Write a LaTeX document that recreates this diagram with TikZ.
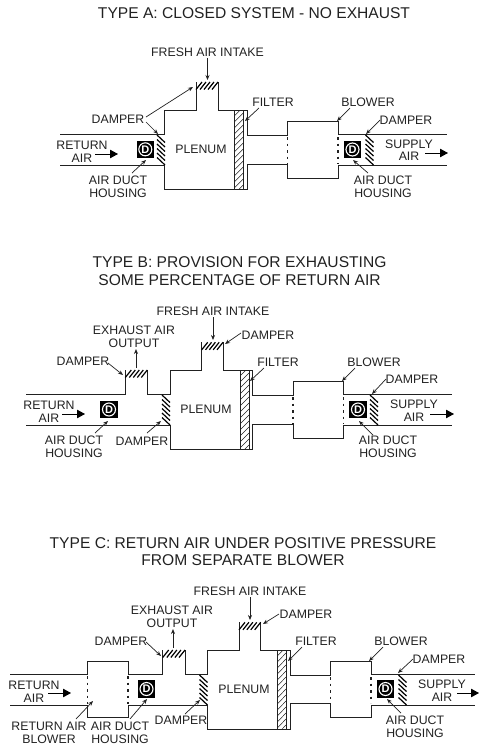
\documentclass[tikz,border=0pt]{standalone}
\usepackage{fontspec}
\setmainfont{Liberation Sans}
\usetikzlibrary{arrows.meta}
\definecolor{ink}{gray}{0.13}
\newcounter{tgt}
\tikzset{
  wall/.style={line width=1pt,draw=ink,line join=miter},
  dots/.style={line width=1.4pt,draw=ink,dash pattern=on 2.5pt off 4pt},
  hatchline/.style={line width=1.2pt,draw=black},
  thinhatch/.style={line width=0.5pt,draw=ink},
  lbl/.style={inner sep=0pt,text=ink,align=center,font=\fontsize{12.3}{12.6}\selectfont},
  ttl/.style={inner sep=0pt,text=ink,align=center,font=\fontsize{15.6}{17.7}\selectfont},
  ptr/.style={line width=0.7pt,draw=ink,-{Stealth[length=5pt,width=4pt]}},
  flow/.style={line width=0.8pt,draw=black,-{Triangle[length=8pt,width=8.5pt]}},
  dbox/.style={fill=black,inner sep=0pt,minimum size=17.5pt},
  dmark/.style={circle,draw=white,line width=1.1pt,inner sep=0pt,minimum size=13pt,text=white,font=\fontsize{11}{11}\selectfont\bfseries},
}
% a pointer: from label #1 at offset (#2,#3) to a named target at (#4,#5)
\newcommand{\ptrto}[5]{\stepcounter{tgt}\coordinate (t\thetgt) at (#4,#5);
  \draw[ptr] ([shift={(#2,#3)}]#1.center) -- (t\thetgt);}
% flow arrow after a label
\newcommand{\flowto}[5]{\stepcounter{tgt}\coordinate (t\thetgt) at (#4,#5);
  \draw[flow] ([shift={(#2,#3)}]#1.center) -- (t\thetgt);}
% side damper: x0 x1 ytop ybottom
\newcommand{\sidedamper}[4]{\foreach \k in {0,...,5}{
  \draw[hatchline] (#1,{#3+\k*(#4-#3-7.5)/5}) -- (#2,{#3+7.5+\k*(#4-#3-7.5)/5});}}
% top damper: x0 x1 ytop
\newcommand{\topdamper}[3]{\foreach \k in {0,...,4}{
  \draw[hatchline] ({#1+\k*(#2-#1-6)/4},#3+7.5) -- ({#1+6+\k*(#2-#1-6)/4},#3);}}
% filter: x0 x1 ytop ybottom
\newcommand{\filterbox}[4]{\begin{scope}
  \clip (#1,#3) rectangle (#2,#4);
  \foreach \k in {0,...,16}{\draw[thinhatch] (#1,{#3+\k*6}) -- (#2,{#3+\k*6-9});}
  \end{scope}
  \draw[wall] (#1,#3) rectangle (#2,#4);}
% D marker
\newcommand{\dmarker}[3]{\node[dbox] (#1) at (#2,#3) {};\node[dmark] (#1m) at (#1.center) {D};}
\begin{document}
\begin{tikzpicture}[x=1pt,y=-1pt]
\useasboundingbox (0,0) rectangle (483,748);
% ---------- TYPE A
\node[ttl] (aT) at (254,13.3) {TYPE A: CLOSED SYSTEM - NO EXHAUST};
\draw[wall] (60,134.7)--(164.7,134.7)--(164.7,110)--(196,110)--(196,82);
\draw[wall] (218,82)--(218,110)--(247,110)--(247,135.7)--(287.7,135.7)--(287.7,121.3)--(338,121.3)--(338,134.5)--(446.7,134.5);
\draw[wall] (60,165)--(164.7,165)--(164.7,189)--(247,189)--(247,164.3)--(287.7,164.3)--(287.7,178.3)--(338,178.3)--(338,165.5)--(446.7,165.5);
\draw[dots] (287.7,137)--(287.7,164); \draw[dots] (338,137)--(338,164);
\filterbox{234.3}{243.3}{110}{189}
\sidedamper{157}{165}{135}{165}
\sidedamper{365.5}{373.5}{135}{165}
\topdamper{196}{218}{82}
\dmarker{aD1}{145.3}{149.3}
\dmarker{aD2}{352.5}{149.5}
\node[lbl] (aFresh) at (207.5,52) {FRESH AIR INTAKE};
\ptrto{aFresh}{0}{6}{207.5}{80}
\node[lbl] (aDampL) at (118,119) {DAMPER};
\ptrto{aDampL}{28}{-2}{193}{87}
\ptrto{aDampL}{28}{3}{158}{134}
\node[lbl] (aRet) at (82,151.5) {RETURN\\AIR};
\flowto{aRet}{13}{2.5}{118}{154}
\node[lbl] (aHou1) at (118,187) {AIR DUCT\\HOUSING};
\ptrto{aHou1}{14}{-14}{146}{160}
\node[lbl] (aPl) at (201,149) {PLENUM};
\node[lbl] (aFil) at (273,102) {FILTER};
\ptrto{aFil}{-14}{6}{245}{121}
\node[lbl] (aBlo) at (368,102) {BLOWER};
\ptrto{aBlo}{-18}{6}{337}{121}
\node[lbl] (aDampR) at (406,120) {DAMPER};
\ptrto{aDampR}{-26}{0}{366}{134}
\node[lbl] (aSup) at (409,150) {SUPPLY\\AIR};
\flowto{aSup}{16}{3}{448}{153}
\node[lbl] (aHou2) at (383,187) {AIR DUCT\\HOUSING};
\ptrto{aHou2}{-15}{-14}{353}{160}
% ---------- TYPE B
\node[ttl] (bT) at (239.5,271) {TYPE B: PROVISION FOR EXHAUSTING\\SOME PERCENTAGE OF RETURN AIR};
\draw[wall] (26,394.3)--(125.3,394.3)--(125.3,370);
\draw[wall] (147.3,370)--(147.3,394.3)--(170,394.3)--(170,370)--(201.7,370)--(201.7,342.3);
\draw[wall] (223,342.3)--(223,370)--(252,370)--(252,395.7)--(293,395.7)--(293,381)--(343.3,381)--(343.3,394)--(451.7,394);
\draw[wall] (26,425)--(170,425)--(170,449)--(252,449)--(252,424.5)--(293,424.5)--(293,438)--(343.3,438)--(343.3,425.7)--(451.7,425.7);
\draw[dots] (293,397)--(293,424); \draw[dots] (343.3,397)--(343.3,424);
\filterbox{240}{249}{370}{449}
\sidedamper{162}{170}{395}{425}
\sidedamper{370}{378}{395}{425}
\topdamper{125.3}{147.3}{370}
\topdamper{201.7}{223}{342.3}
\dmarker{bD1}{109}{409.5}
\dmarker{bD2}{358}{409.5}
\node[lbl] (bFresh) at (213,311) {FRESH AIR INTAKE};
\ptrto{bFresh}{0}{6}{213}{340}
\node[lbl] (bExh) at (134,336.5) {EXHAUST AIR\\OUTPUT};
\ptrto{bExh}{2}{31.5}{136}{349}
\node[lbl] (bDa1) at (83,361) {DAMPER};
\ptrto{bDa1}{25}{2}{123}{375}
\node[lbl] (bDa2) at (268,335) {DAMPER};
\ptrto{bDa2}{-27}{-2}{225}{344}
\node[lbl] (bFil) at (278,362) {FILTER};
\ptrto{bFil}{-14}{6}{250}{381}
\node[lbl] (bBlo) at (374,362) {BLOWER};
\ptrto{bBlo}{-19}{6}{342}{381}
\node[lbl] (bDa3) at (412,379) {DAMPER};
\ptrto{bDa3}{-26}{0}{372}{394}
\node[lbl] (bSup) at (414,410.5) {SUPPLY\\AIR};
\flowto{bSup}{16}{3.5}{454}{414}
\node[lbl] (bRet) at (49,411.5) {RETURN\\AIR};
\flowto{bRet}{13}{2.5}{85}{414}
\node[lbl] (bHou1) at (74,447) {AIR DUCT\\HOUSING};
\ptrto{bHou1}{21}{-14}{108}{421}
\node[lbl] (bDa4) at (142,441) {DAMPER};
\ptrto{bDa4}{5}{-8}{161}{421}
\node[lbl] (bHou2) at (388,447) {AIR DUCT\\HOUSING};
\ptrto{bHou2}{-15}{-12}{359}{421}
\node[lbl] (bPl) at (206,409) {PLENUM};
% ---------- TYPE C
\node[ttl] (cT) at (243,551.7) {TYPE C: RETURN AIR UNDER POSITIVE PRESSURE\\FROM SEPARATE BLOWER};
\draw[wall] (10,674.3)--(87.7,674.3)--(87.7,661)--(128,661)--(128,674.3)--(162.7,674.3)--(162.7,650);
\draw[wall] (185,650)--(185,674.3)--(207.3,674.3)--(207.3,650)--(239,650)--(239,622.3);
\draw[wall] (260.7,622.3)--(260.7,650)--(290.3,650)--(290.3,675.3)--(330.7,675.3)--(330.7,661)--(371,661)--(371,674)--(475,674);
\draw[wall] (10,705)--(87.7,705)--(87.7,717.7)--(128,717.7)--(128,705)--(207.3,705)--(207.3,729)--(290.3,729)--(290.3,703.3)--(330.7,703.3)--(330.7,717.7)--(371,717.7)--(371,705)--(475,705);
\draw[dots] (87.7,676)--(87.7,704); \draw[dots] (128,676)--(128,704);
\draw[dots] (330.7,677)--(330.7,703); \draw[dots] (371,677)--(371,703);
\filterbox{277.3}{286}{650}{729}
\sidedamper{199.5}{207.5}{675}{705}
\sidedamper{398.5}{406.5}{675}{705}
\topdamper{162.7}{185}{650}
\topdamper{239}{260.7}{622.3}
\dmarker{cD1}{146.5}{689}
\dmarker{cD2}{385.5}{689}
\node[lbl] (cFresh) at (250,591) {FRESH AIR INTAKE};
\ptrto{cFresh}{0}{6}{250}{620}
\node[lbl] (cExh) at (172,616.5) {EXHAUST AIR\\OUTPUT};
\ptrto{cExh}{1}{31.5}{173}{629}
\node[lbl] (cDa1) at (121,641) {DAMPER};
\ptrto{cDa1}{25}{1}{161}{656}
\node[lbl] (cDa2) at (306,614) {DAMPER};
\ptrto{cDa2}{-27}{0}{263}{624}
\node[lbl] (cFil) at (316,641) {FILTER};
\ptrto{cFil}{-14}{6}{288}{661}
\node[lbl] (cBlo) at (401,641) {BLOWER};
\ptrto{cBlo}{-18}{6}{369}{661}
\node[lbl] (cDa3) at (439,659) {DAMPER};
\ptrto{cDa3}{-26}{0}{398}{673}
\node[lbl] (cSup) at (442,690.5) {SUPPLY\\AIR};
\flowto{cSup}{15}{2.5}{479}{693}
\node[lbl] (cRet) at (34,691.5) {RETURN\\AIR};
\flowto{cRet}{14}{1.5}{71}{693}
\node[lbl] (cRB) at (49,733) {RETURN AIR\\BLOWER};
\ptrto{cRB}{27}{-14}{93}{701}
\node[lbl] (cHou1) at (120,733) {AIR DUCT\\HOUSING};
\ptrto{cHou1}{10}{-14}{147}{699}
\node[lbl] (cDa4) at (181,720) {DAMPER};
\ptrto{cDa4}{4}{-6}{200}{700}
\node[lbl] (cHou2) at (415,727) {AIR DUCT\\HOUSING};
\ptrto{cHou2}{-14}{-14}{387}{699}
\node[lbl] (cPl) at (244,689) {PLENUM};
\end{tikzpicture}
\end{document}
